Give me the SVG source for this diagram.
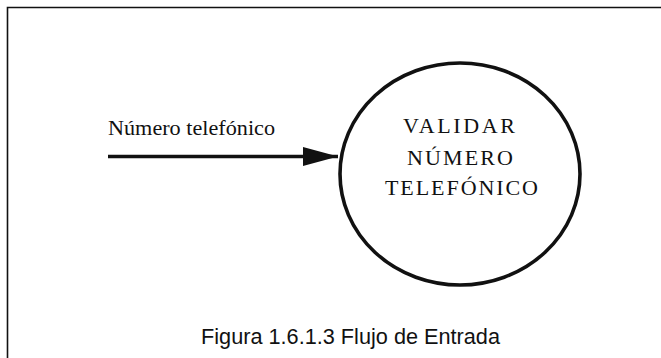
<svg xmlns="http://www.w3.org/2000/svg" width="661" height="358" viewBox="0 0 661 358">
  <style>
    .frame { fill: none; stroke: #111; stroke-width: 1.6; }
    .proc { fill: #fff; stroke: #111; stroke-width: 3.6; }
    .serif { font-family: "Liberation Serif", "Times New Roman", serif; fill: #111; }
    .sans { font-family: "Liberation Sans", Arial, sans-serif; fill: #111; }
    .flow { stroke: #111; stroke-width: 3.5; fill: none; }
  </style>
  <defs>
    <marker id="arrow" markerUnits="userSpaceOnUse" markerWidth="36" markerHeight="20" refX="35" refY="9.5" orient="auto">
      <path d="M0,0 L35,9.5 L0,19 Z" fill="#111"/>
    </marker>
  </defs>
  <rect width="661" height="358" fill="#fff"/>
  <path class="frame" d="M7.5,358 V7.5 H661"/>
  <g id="connectors">
    <line class="flow" x1="108" y1="156.5" x2="338" y2="156.5" marker-end="url(#arrow)"/>
    <text class="serif" x="108" y="135" font-size="21" textLength="167" lengthAdjust="spacingAndGlyphs">Número telefónico</text>
  </g>
  <g id="validar">
    <ellipse class="proc" cx="460" cy="174" rx="120" ry="111"/>
    <text class="serif" x="403" y="133" font-size="22" textLength="112" lengthAdjust="spacing">VALIDAR</text>
    <text class="serif" x="407" y="165" font-size="22" textLength="106" lengthAdjust="spacing">NÚMERO</text>
    <text class="serif" x="385" y="195" font-size="22" textLength="153" lengthAdjust="spacing">TELEFÓNICO</text>
  </g>
  <g id="caption">
    <text class="sans" x="201" y="344" font-size="21.5" textLength="299" lengthAdjust="spacingAndGlyphs">Figura 1.6.1.3 Flujo de Entrada</text>
  </g>
</svg>
